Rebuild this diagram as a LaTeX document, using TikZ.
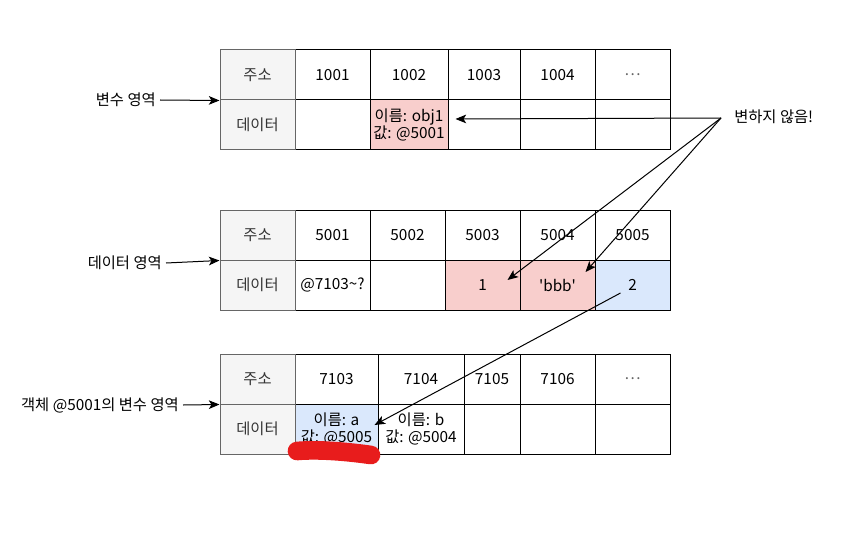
\documentclass[tikz,border=0pt]{standalone}
\usepackage{fontspec}
\setmainfont{Noto Sans CJK KR}
\usetikzlibrary{arrows.meta}

\definecolor{cellpink}{HTML}{F8CECC}
\definecolor{cellblue}{HTML}{DAE8FC}
\definecolor{headgray}{HTML}{F5F5F5}
\definecolor{headline}{HTML}{666666}
\definecolor{headtext}{HTML}{333333}
\definecolor{scribble}{HTML}{E81C1C}

\tikzset{
  cell/.style={draw=black, line width=0.75pt, inner sep=0pt, align=center, text=black},
  headcell/.style={cell, draw=headline, fill=headgray, text=headtext},
  arealabel/.style={anchor=east, inner sep=3pt},
  link/.style={->, line width=0.75pt}
}

% one memory cell: name, x1, x2, y1, y2, options, text
\newcommand{\memcell}[7]{%
  \node[cell, #6, minimum width={(#3-#2)*0.75pt}, minimum height={(#5-#4)*0.75pt}]
    (#1) at ({(#2+#3)/2},{(#4+#5)/2}) {#7};}

\begin{document}
\begin{tikzpicture}[x=0.75pt, y=-0.75pt, >={Stealth[length=8pt,width=6.5pt,inset=2pt]},
  font=\fontsize{11.5}{12.8}\selectfont]
\useasboundingbox (0,0) rectangle (855,545);

% variable area
\foreach \n/\xa/\xb/\txt in {1/295/370/1001, 2/370/448/1002, 3/448/520/1003, 4/520/595/1004, 5/595/670/{\textcolor{headline}{\ldots}}}
	{\memcell{v\n}{\xa}{\xb}{50}{100}{fill=white}{\txt}}
\foreach \n/\xa/\xb/\fc/\txt in {1/295/370/white/{}, 2/370/448/cellpink/{이름: obj1\\값: @5001}, 3/448/520/white/{}, 4/520/595/white/{}, 5/595/670/white/{}}
	{\memcell{vd\n}{\xa}{\xb}{100}{150}{fill=\fc}{\txt}}
\memcell{vaddr}{220}{295}{50}{100}{headcell}{주소}
\memcell{vdata}{220}{295}{100}{150}{headcell}{데이터}

% data area
\foreach \n/\xa/\xb/\txt in {1/295/370/5001, 2/370/445/5002, 3/445/520/5003, 4/520/595/5004, 5/595/670/5005}
	{\memcell{d\n}{\xa}{\xb}{210}{260}{fill=white}{\txt}}
\foreach \n/\xa/\xb/\fc/\txt in {1/295/370/white/{@7103\textasciitilde?}, 2/370/445/white/{}, 3/445/520/cellpink/1, 4/520/595/cellpink/{\textquotesingle bbb\textquotesingle}, 5/595/670/cellblue/2}
	{\memcell{dd\n}{\xa}{\xb}{260}{310}{fill=\fc}{\txt}}
\memcell{daddr}{220}{295}{210}{260}{headcell}{주소}
\memcell{ddata}{220}{295}{260}{310}{headcell}{데이터}

% variable area of object @5001
\foreach \n/\xa/\xb/\txt in {1/295/378/7103, 2/378/464/7104, 3/464/520/7105, 4/520/595/7106, 5/595/670/{\textcolor{headline}{\ldots}}}
	{\memcell{o\n}{\xa}{\xb}{354}{404}{fill=white}{\txt}}
\foreach \n/\xa/\xb/\fc/\txt in {1/295/378/cellblue/{이름: a\\값: @5005}, 2/378/464/white/{이름: b\\값: @5004}, 3/464/520/white/{}, 4/520/595/white/{}, 5/595/670/white/{}}
	{\memcell{od\n}{\xa}{\xb}{404}{454}{fill=\fc}{\txt}}
\memcell{oaddr}{220}{295}{354}{404}{headcell}{주소}
\memcell{odata}{220}{295}{404}{454}{headcell}{데이터}

% area labels
\node[arealabel] (varlbl) at (160,100) {변수 영역};
\node[arealabel] (datlbl) at (166,263) {데이터 영역};
\node[arealabel] (objlbl) at (183,405) {객체 @5001의 변수 영역};
\draw[link] (varlbl.east) -- (vaddr.south west);
\draw[link] (datlbl.east) -- (daddr.south west);
\draw[link] (objlbl.east) -- (oaddr.south west);

% unchanged values
\node[anchor=west, inner sep=0pt] (keep) at (734,117) {변하지 않음!};
\coordinate (fork) at (721,118);
\draw[link] (fork) -- ([shift={(7,-6)}]vd2.east);
\draw[link] (fork) -- ([shift={(25,-5)}]dd3.center);
\draw[link] (fork) -- ([shift={(28,-13)}]dd4.center);

\draw[link] ([shift={(-12,8)}]dd5.center) -- ([shift={(38,-4)}]od1.center);

% red mark
\draw[scribble, line width=14pt, line cap=round] (297,451) .. controls (320,449) and (350,452) .. (371,455);

\end{tikzpicture}
\end{document}
